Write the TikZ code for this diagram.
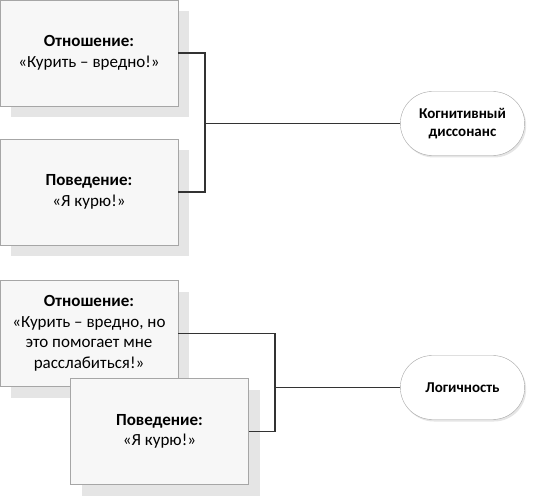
\documentclass[tikz,border=0pt]{standalone}
\usepackage{fontspec}
\setmainfont{Carlito}
\usetikzlibrary{shapes.misc,shadows}
\definecolor{boxfill}{HTML}{F7F7F7}
\definecolor{boxline}{HTML}{A6A6A6}
\definecolor{shade}{HTML}{E5E5E5}
\definecolor{wire}{HTML}{333333}
\tikzset{
  card/.style={draw=boxline,fill=boxfill,minimum width=178pt,minimum height=106pt,
    align=center,inner sep=2pt,font=\fontsize{17}{20.5}\selectfont,
    general shadow={shadow xshift=11pt,shadow yshift=-11pt,fill=shade}},
  verdict/.style={rounded rectangle,draw=boxline,fill=white,minimum width=131pt,
    minimum height=64pt,align=center,font=\bfseries\fontsize{15}{18.5}\selectfont,
    general shadow={shadow xshift=1.5pt,shadow yshift=-2pt,fill=shade}},
  wirel/.style={draw=wire,line width=1.4pt}
}
\begin{document}
\begin{tikzpicture}[x=1pt,y=-1pt]
\useasboundingbox (0,0) rectangle (535,497);
%upper pair
\node[card] (att1) at (89,53) {\textbf{Отношение:}\\«Курить – вредно!»};
\node[card] (beh1) at (89,192) {\textbf{Поведение:}\\«Я курю!»};
\node[verdict] (cog) at (462.5,123.5) {Когнитивный\\диссонанс};
\coordinate (j1) at (205,123.5);
\draw[wirel] (att1.east) -| (j1) |- (beh1.east);
\draw[wirel] (j1) -- (cog.west);
%lower pair
\node[card] (att2) at (89,333.5) {\textbf{Отношение:}\\«Курить – вредно, но\\это помогает мне\\расслабиться!»};
\node[card] (beh2) at (159.5,431.5) {\textbf{Поведение:}\\«Я курю!»};
\node[verdict] (logic) at (462.5,387.5) {Логичность};
\coordinate (j2) at (275,387.5);
\draw[wirel] (att2.east) -| (j2) |- (beh2.east);
\draw[wirel] (j2) -- (logic.west);
\end{tikzpicture}
\end{document}
